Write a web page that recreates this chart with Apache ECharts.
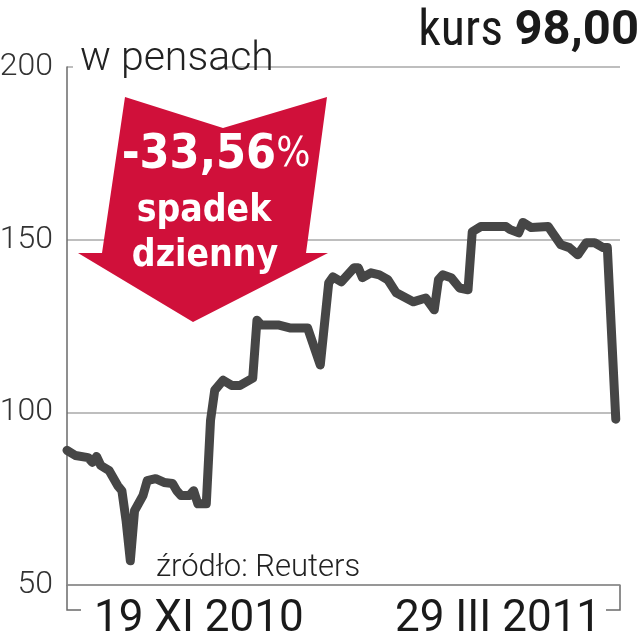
<!DOCTYPE html>
<html><head><meta charset="utf-8">
<script src="https://cdn.jsdelivr.net/npm/echarts@6/dist/echarts.min.js"></script>
<style>html,body{margin:0;padding:0;background:#fff}#c{width:642px;height:640px}</style>
</head><body><div id="c"></div>
<script>
// day offsets from 19 XI 2010 (approx.)
const days = [0,2,5,6,7,8,10,12,13,14,15,16,18,19,21,23,25,26,27,29,30,31,33,34,35,37,39,41,44,45,46,50,53,57,60,62,63,65,68,69,70,72,74,76,78,82,85,87,88,89,91,93,95,96,98,104,105,107,108,110,114,115,117,119,121,123,125,127,128,130];
const prices = [89.0,87.5,86.9,85.5,87.2,84.6,83.1,78.8,77.3,68.6,57.0,71.5,75.9,80.2,80.8,79.7,79.4,77.3,75.9,75.9,77.3,73.5,73.5,97.7,106.4,109.3,107.8,107.8,109.9,126.7,125.3,125.3,124.4,124.4,113.7,137.5,139.2,137.8,141.9,141.9,139.0,140.4,139.8,138.4,134.6,132.0,133.1,129.7,138.4,139.8,139.0,136.0,135.5,152.3,153.8,153.8,152.9,152.0,155.0,153.5,153.8,152.0,148.5,147.7,145.6,149.1,149.1,147.7,147.7,98.0];
const yTicks = [50,100,150,200];
const dateLabels = ['19 XI 2010','29 III 2011'];
const unitLabel = 'w pensach';
const sourceLabel = 'źródło: Reuters';
const kursLabel = 'kurs';
const kursValue = '98,00';
const changeLabel = '-33,56';
const changeLines = ['spadek','dzienny'];

const XMAX = 131;
const COND = '"DejaVu Sans Condensed",sans-serif';
const chart = echarts.init(document.getElementById('c'), null, {renderer:'canvas'});
chart.setOption({
  animation:false,
  backgroundColor:'#fff',
  grid:{left:67,right:22,top:67,bottom:55,containLabel:false,outerBoundsMode:'none'},
  xAxis:{type:'value',min:0,max:XMAX,
    axisLine:{show:true,lineStyle:{color:'#8a8a8a',width:1.5}},
    axisTick:{show:false},axisLabel:{show:false},splitLine:{show:false}},
  yAxis:{type:'value',min:yTicks[0],max:yTicks[yTicks.length-1],interval:50,
    axisLine:{show:true,lineStyle:{color:'#6a6a6a',width:1.5}},
    axisTick:{show:false},
    axisLabel:{margin:14,color:'#333',fontFamily:'Roboto',fontWeight:300,fontSize:32},
    splitLine:{show:true,lineStyle:{color:'#a8a8a8',width:1.5}}},
  series:[{type:'line',data:days.map((d,i)=>[d,prices[i]]),symbol:'none',smooth:false,
    lineStyle:{color:'#464646',width:9,cap:'round',join:'round'},z:3}]
});

const p0 = chart.convertToPixel({gridIndex:0},[0,yTicks[0]]);
const p1 = chart.convertToPixel({gridIndex:0},[XMAX,yTicks[0]]);
const pTop = chart.convertToPixel({gridIndex:0},[0,yTicks[yTicks.length-1]]);
const bx = 25;
chart.setOption({graphic:[
  {type:'polyline',shape:{points:[[p0[0],p0[1]],[p0[0],p0[1]+bx],[p0[0]+14,p0[1]+bx]]},style:{stroke:'#6a6a6a',lineWidth:1.5,fill:null}},
  {type:'polyline',shape:{points:[[p1[0],p1[1]],[p1[0],p1[1]+bx],[p1[0]-14,p1[1]+bx]]},style:{stroke:'#6a6a6a',lineWidth:1.5,fill:null}},
  {type:'text',x:94,y:p0[1]+35,style:{text:dateLabels[0],font:'44px Roboto',fill:'#1a1a1a',verticalAlign:'middle'}},
  {type:'text',x:395,y:p0[1]+35,style:{text:dateLabels[1],font:'44px Roboto',fill:'#1a1a1a',verticalAlign:'middle'}},
  {type:'text',x:156,y:568,style:{text:sourceLabel,font:'300 31px Roboto',fill:'#222',verticalAlign:'middle'},z:10},
  {type:'rect',shape:{x:pTop[0]+6,y:pTop[1]-2,width:212-pTop[0],height:4},style:{fill:'#fff'},z:9},
  {type:'text',x:80,y:pTop[1]-7,style:{text:unitLabel,font:'300 41px Roboto',fill:'#222',verticalAlign:'middle'},z:10},
  {type:'text',x:639,y:32,style:{rich:{a:{font:'50px "Roboto Condensed"',fill:'#1a1a1a'},b:{font:'bold 49px Roboto',fill:'#1a1a1a'}},text:'{a|'+kursLabel+' }{b|'+kursValue+'}',align:'right',verticalAlign:'middle'},z:10},
  {type:'polygon',shape:{points:[[125,97],[223,128],[327,97],[306,253],[328,253],[193,322],[78,253],[102,253]]},style:{fill:'#d0103a'},z:20},
  {type:'text',x:216,y:156,style:{rich:{a:{font:'bold 48px '+COND,fill:'#fff'},b:{font:'40px '+COND,fill:'#fff'}},text:'{a|'+changeLabel+'}{b|%}',align:'center',verticalAlign:'middle'},z:21},
  {type:'text',x:204,y:211,style:{text:changeLines[0],font:'bold 37px '+COND,fill:'#fff',align:'center',verticalAlign:'middle'},z:21},
  {type:'text',x:205,y:256,style:{text:changeLines[1],font:'bold 37px '+COND,fill:'#fff',align:'center',verticalAlign:'middle'},z:21}
]});
</script></body></html>
